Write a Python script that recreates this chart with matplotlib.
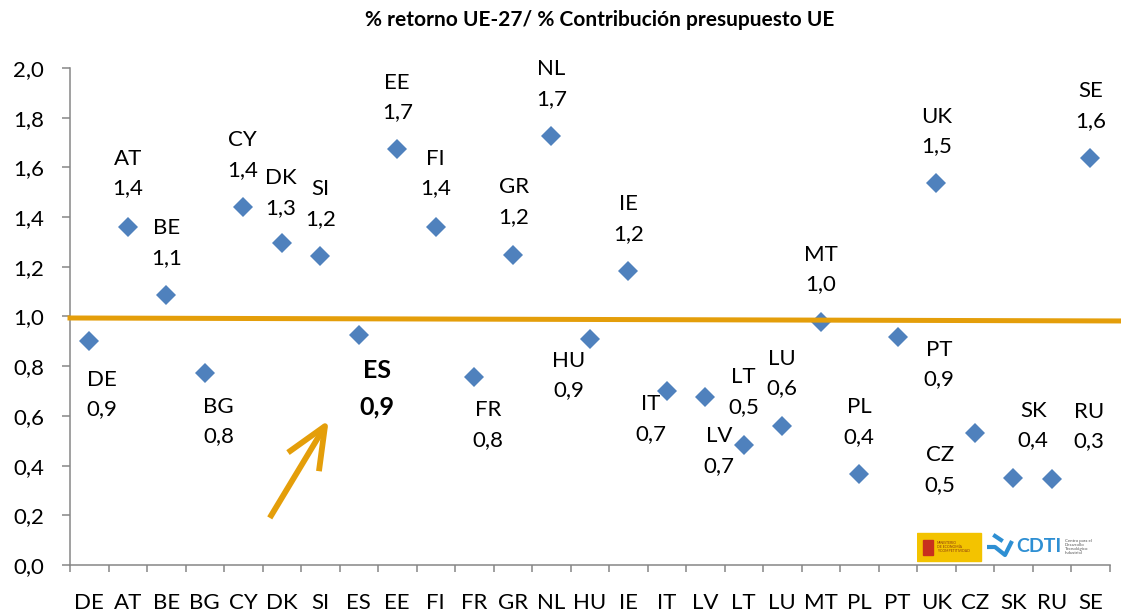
import matplotlib
matplotlib.use("Agg")
import matplotlib.pyplot as plt
import matplotlib.transforms as mtransforms
from matplotlib.ticker import FixedLocator, FuncFormatter, MultipleLocator
from matplotlib.patches import Rectangle

plt.rcParams['font.family'] = ['Lato', 'DejaVu Sans']

countries = ["DE", "AT", "BE", "BG", "CY", "DK", "SI", "ES", "EE", "FI", "FR", "GR", "NL", "HU",
             "IE", "IT", "LV", "LT", "LU", "MT", "PL", "PT", "UK", "CZ", "SK", "RU", "SE"]
ratio = [0.903, 1.361, 1.087, 0.771, 1.44, 1.296, 1.243, 0.926, 1.675, 1.361, 0.757, 1.247, 1.726, 0.908,
         1.183, 0.701, 0.675, 0.483, 0.561, 0.979, 0.366, 0.919, 1.536, 0.530, 0.352, 0.348, 1.637]
ref_line = [0.994, 0.982]   # left / right end of the orange reference line
highlight = "ES"

# label offsets from each marker, in pixels (x right, y up)
label_dx = [13, 0, 0, 14, -1, -1, 0, 18, 0, 0, 14, 1, 0, -21, 0, -16, 14, 0, 0, 0, 0, 41, 0, -35, 20, 37, 0]
label_dy = [-54, 53, 52, -48, 52, 50, 52, -54, 51, 53, -48, 53, 52, -36, 52, -28, -54, 53, 52, 52, 52, -28, 52, -37, 52, 52, 52]

blue = "#4F81BD"
orange = "#E49E0A"
grey = "#868686"


def fmt(v):
    return f"{v:.1f}".replace(".", ",")


fig = plt.figure(figsize=(11.21, 6.12), dpi=100)
ax = fig.add_axes([70 / 1121, 47 / 612, 1039.5 / 1121, 497 / 612])

x = list(range(len(countries)))
ax.plot(x, ratio, linestyle="none", marker="D", markersize=10, color=blue, markeredgewidth=0, zorder=3)

ax.set_xlim(-0.5, len(countries) - 0.5)
ax.set_ylim(0, 2)

# reference line runs to the right edge of the figure
x_end = ax.transData.inverted().transform(fig.transFigure.transform((1, 0)))[0]
ax.plot([-0.5, x_end], ref_line, color=orange, linewidth=3.6, clip_on=False, zorder=4)

for i, (c, v) in enumerate(zip(countries, ratio)):
    if c == highlight:
        ax.annotate(f"{c}\n{fmt(v)}", (i, v), xytext=(label_dx[i], label_dy[i]), textcoords="offset pixels",
                    ha="center", va="center", fontsize=18, fontweight="bold", linespacing=1.7)
    else:
        ax.annotate(f"{c}\n{fmt(v)}", (i, v), xytext=(label_dx[i], label_dy[i]), textcoords="offset pixels",
                    ha="center", va="center", fontsize=16, linespacing=1.6)

# arrow pointing at the highlighted label
i_es = countries.index(highlight)
tip = mtransforms.offset_copy(ax.transData, fig=fig, x=-30, y=-85, units="dots")
ax.annotate("", xy=(i_es, ratio[i_es]), xycoords=tip, xytext=(-59, -98), textcoords="offset pixels",
            arrowprops=dict(arrowstyle="->,head_length=1.5,head_width=0.65", mutation_scale=20,
                            color=orange, lw=4.2, shrinkA=0, shrinkB=0, capstyle="butt"))

# axes styling (Excel-like)
for s in ["top", "right"]:
    ax.spines[s].set_visible(False)
for s in ["left", "bottom"]:
    ax.spines[s].set_color(grey)
    ax.spines[s].set_linewidth(1.1)

ax.yaxis.set_major_locator(MultipleLocator(0.2))
ax.yaxis.set_major_formatter(FuncFormatter(lambda v, _: fmt(v)))
ax.tick_params(axis="y", length=5.8, width=1.1, color=grey, labelsize=16, pad=13)

ax.xaxis.set_major_locator(FixedLocator(x))
ax.set_xticklabels(countries)
ax.xaxis.set_minor_locator(FixedLocator([i - 0.5 for i in range(len(countries) + 1)]))
ax.tick_params(axis="x", which="major", length=0, labelsize=16, pad=20)
ax.tick_params(axis="x", which="minor", length=5, width=1.1, color=grey)

fig.text(600 / 1121, 1 - 20 / 612, "% retorno UE-27/ % Contribución presupuesto UE",
         ha="center", va="center", fontsize=15, fontweight="bold")

# logos, bottom right
lg = fig.add_axes([917 / 1121, 49 / 612, 190 / 1121, 32 / 612])
lg.set_xlim(0, 190)
lg.set_ylim(0, 32)
lg.axis("off")
lg.add_patch(Rectangle((0, 2), 64, 28, color="#F3C300"))
lg.add_patch(Rectangle((6, 8), 10, 15, color="#C8301E"))
lg.text(20, 16, "MINISTERIO\nDE ECONOMÍA\nY COMPETITIVIDAD", fontsize=2.5, color="#8A3A10",
        va="center", ha="left", linespacing=1.0)
lg.plot([70, 78, 88, 95], [16, 16, 8, 22], color="#2E8FD3", lw=3, solid_capstyle="butt")
lg.plot([78, 84], [27, 23], color="#2E8FD3", lw=3)
lg.text(99, 16, "CDTI", fontsize=14, fontweight="bold", color="#2E8FD3", va="center", ha="left")
lg.text(148, 16, "Centro para el\nDesarrollo\nTecnológico\nIndustrial", fontsize=3.2, color="#555555",
        va="center", ha="left", linespacing=1.0)

fig.savefig("out.png", dpi=100)
